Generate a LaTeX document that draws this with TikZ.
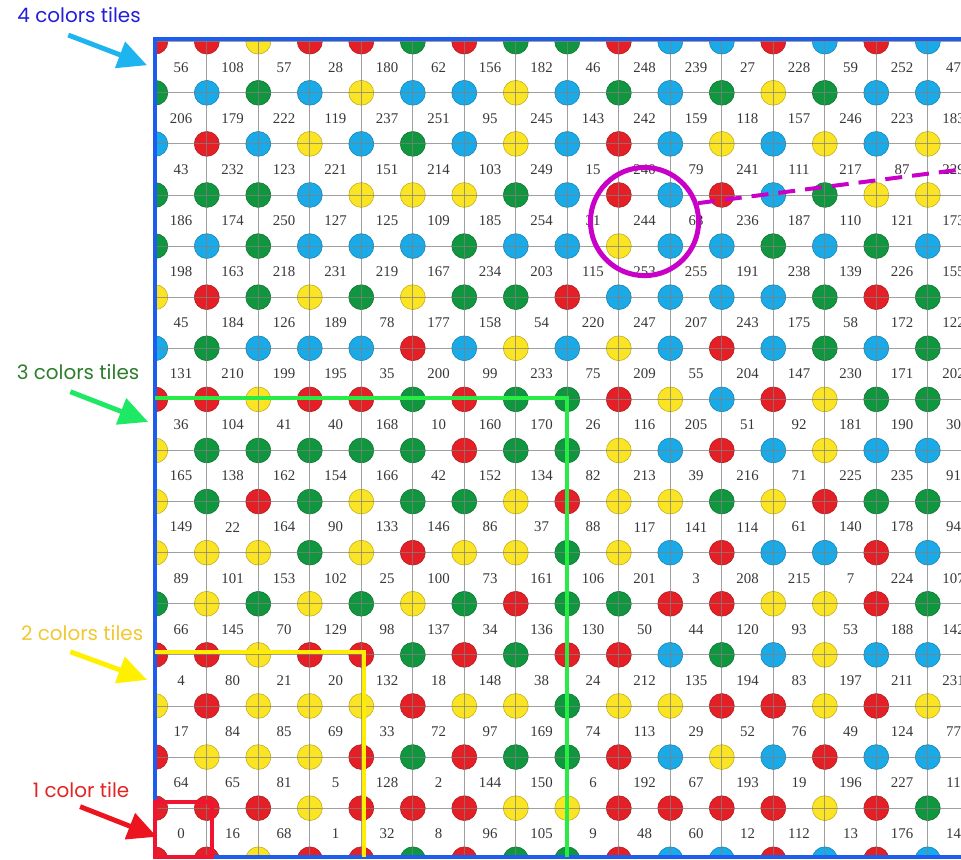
\documentclass[tikz,border=0pt]{standalone}
\usepackage{fontspec}
\setmainfont{Liberation Serif}
\newfontfamily\tagfont{Poppins}
\usetikzlibrary{arrows.meta,positioning}
\definecolor{ink}{RGB}{55,55,55}
\definecolor{dot0}{RGB}{228,32,38}   % red
\definecolor{dot1}{RGB}{250,228,35}  % yellow
\definecolor{dot2}{RGB}{16,150,62}   % green
\definecolor{dot3}{RGB}{26,170,232}  % blue
\definecolor{rimB}{RGB}{28,92,238}
\definecolor{rimG}{RGB}{40,235,70}
\definecolor{rimY}{RGB}{255,238,0}
\definecolor{rimR}{RGB}{238,20,50}
\definecolor{ringM}{RGB}{200,0,200}
\definecolor{txtB}{RGB}{35,30,215}
\definecolor{txtG}{RGB}{45,125,45}
\definecolor{txtY}{RGB}{240,200,50}
\definecolor{txtR}{RGB}{228,35,35}
\definecolor{arrB}{RGB}{30,180,240}
\definecolor{arrG}{RGB}{30,232,100}
\definecolor{arrY}{RGB}{255,240,0}
\definecolor{arrR}{RGB}{236,20,30}
\tikzset{
  dot/.style={fill=dot#1,draw=dot#1!75!black,line width=0.3pt},
  gridline/.style={gray,line width=0.45pt,opacity=0.75},
  num/.style={font=\fontsize{8.2}{9}\selectfont,text=ink,inner sep=0pt},
  rim/.style={line width=2.2pt},
  tag/.style={font=\tagfont\fontsize{11}{13}\selectfont,inner sep=0pt},
  fat/.style={line width=2.7pt,-{Triangle[length=16pt,width=15pt]}},
  ring/.style={circle,draw=ringM,line width=2.75pt,minimum size=2.1cm,inner sep=0pt},
}

\begin{document}
\begin{tikzpicture}[x=1cm,y=0.9922cm]
\useasboundingbox (-3.0155,0) rectangle (15.645,16.816);

% tiles: number = TL + 4 BL + 16 BR + 64 TR (0 red, 1 yellow, 2 green, 3 blue)
\begin{scope}
\clip (0,0.05) rectangle (16.6,16.06);
\foreach \tilerow [count=\k] in {
  {56,108,57,28,180,62,156,182,46,248,239,27,228,59,252,47},
  {206,179,222,119,237,251,95,245,143,242,159,118,157,246,223,183},
  {43,232,123,221,151,214,103,249,15,240,79,241,111,217,87,229},
  {186,174,250,127,125,109,185,254,31,244,63,236,187,110,121,173},
  {198,163,218,231,219,167,234,203,115,253,255,191,238,139,226,155},
  {45,184,126,189,78,177,158,54,220,247,207,243,175,58,172,122},
  {131,210,199,195,35,200,99,233,75,209,55,204,147,230,171,202},
  {36,104,41,40,168,10,160,170,26,116,205,51,92,181,190,30},
  {165,138,162,154,166,42,152,134,82,213,39,216,71,225,235,91},
  {149,22,164,90,133,146,86,37,88,117,141,114,61,140,178,94},
  {89,101,153,102,25,100,73,161,106,201,3,208,215,7,224,107},
  {66,145,70,129,98,137,34,136,130,50,44,120,93,53,188,142},
  {4,80,21,20,132,18,148,38,24,212,135,194,83,197,211,231},
  {17,84,85,69,33,72,97,169,74,113,29,52,76,49,124,77},
  {64,65,81,5,128,2,144,150,6,192,67,193,19,196,227,11},
  {0,16,68,1,32,8,96,105,9,48,60,12,112,13,176,14}}{
  \pgfmathtruncatemacro{\rr}{16-\k}
  \foreach \tileno [count=\cc from 0] in \tilerow {
    \pgfmathtruncatemacro{\cTL}{mod(\tileno,4)}
    \pgfmathtruncatemacro{\cBL}{mod(int(\tileno/4),4)}
    \pgfmathtruncatemacro{\cBR}{mod(int(\tileno/16),4)}
    \pgfmathtruncatemacro{\cTR}{int(\tileno/64)}
    \ifnum\cc<15
      \filldraw[dot=\cBL] (\cc,\rr) circle (0.243);
      \ifnum\rr=15 \filldraw[dot=\cTL] (\cc,16) circle (0.243); \fi
    \fi
    \ifnum\cc=14
      \filldraw[dot=\cBR] (15,\rr) circle (0.243);
      \ifnum\rr=15 \filldraw[dot=\cTR] (15,16) circle (0.243); \fi
    \fi
    \node[num] (t\tileno) at (\cc+0.5,\rr+0.5) {\tileno};
  }
}
\foreach \i in {0,...,16} {
  \draw[gridline] (\i,0) -- (\i,16.1);
  \draw[gridline] (0,\i) -- (16.6,\i);
}
\end{scope}

% frames round the tile sets
\draw[rim,rimB] (0,0.05) rectangle (16.6,16.06);
\draw[rim,rimG] (0,9.02) -- (8,9.02) -- (8,0.05);
\draw[rim,rimY] (0,4.057) -- (4.05,4.057) -- (4.05,0.05);
\draw[rim,rimR] (0,0.05) rectangle (1.107,1.113);

% zoomed tile
\node[ring] (zoomring) at (9.5,12.48) {};
\coordinate (zoomto) at (16.2,13.57);
\draw[ringM,line width=2.2pt,dash pattern=on 9.4pt off 5.5pt] (zoomring.19) -- (zoomto);

% labels
\node[tag,text=txtB] (lbl4) at (-1.48,16.52) {4 colors tiles};
\node[tag,text=txtG] (lbl3) at (-1.50,9.536) {3 colors tiles};
\node[tag,text=txtY] (lbl2) at (-1.42,4.43) {2 colors tiles};
\node[tag,text=txtR] (lbl1) at (-1.44,1.36) {1 color tile};
\coordinate (a4) at (-1.69,16.13);
\coordinate (b4) at (-0.16,15.54);
\coordinate (a3) at (-1.65,9.15);
\coordinate (b3) at (-0.14,8.56);
\coordinate (a2) at (-1.65,4.06);
\coordinate (b2) at (-0.16,3.51);
\coordinate (a1) at (-1.46,1.03);
\coordinate (b1) at (0.03,0.44);
\draw[fat,arrB] (a4) -- (b4);
\draw[fat,arrG] (a3) -- (b3);
\draw[fat,arrY] (a2) -- (b2);
\draw[fat,arrR] (a1) -- (b1);
\end{tikzpicture}
\end{document}
